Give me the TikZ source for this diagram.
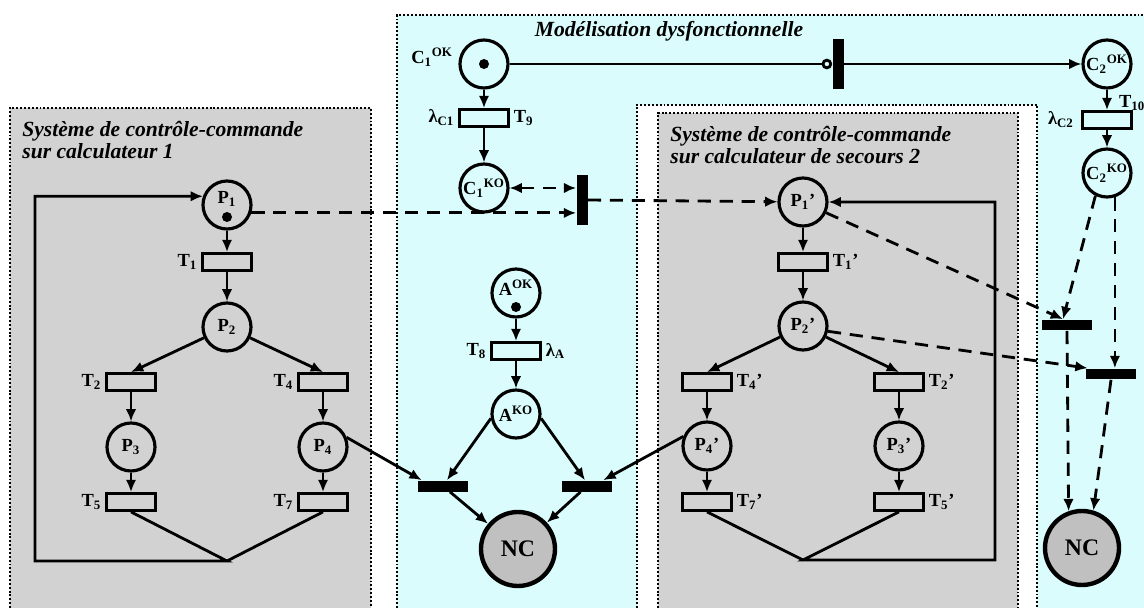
\documentclass[tikz,border=0pt]{standalone}
\usepackage{fontspec}
\setmainfont{Liberation Serif}
\usetikzlibrary{arrows.meta, positioning}
\definecolor{sysgray}{RGB}{210,210,210}
\definecolor{dysfcyan}{RGB}{218,252,252}
\definecolor{ncgray}{RGB}{192,192,192}
\newcommand{\lblfont}{\bfseries\fontsize{10.5}{12}\selectfont}
\tikzset{
  >={Latex[length=7pt,width=6pt]},
  place/.style   = {circle, draw, line width=1.8pt, minimum size=0.96cm, inner sep=0pt, font=\lblfont},
  ncplace/.style = {place, fill=ncgray, line width=2.5pt, minimum size=1.48cm,
                    font=\bfseries\fontsize{13.5}{15}\selectfont},
  trans/.style   = {draw, line width=1.6pt, minimum width=0.98cm, minimum height=0.34cm, inner sep=0pt},
  hbar/.style    = {fill=black, minimum width=1cm, minimum height=0.22cm, inner sep=0pt},
  vbar/.style    = {fill=black, minimum width=0.22cm, minimum height=1.02cm, inner sep=0pt},
  jeton/.style   = {circle, fill=black, minimum size=0.2cm, inner sep=0pt},
  wire/.style    = {line width=1.6pt},
  flow/.style    = {->, line width=1.6pt},
  dflow/.style   = {flow, dash pattern=on 7.5pt off 5pt},
  dboth/.style   = {<->, line width=1.6pt, dash pattern=on 7.5pt off 5pt},
  inhib/.style   = {-{Circle[open,length=6pt]}, line width=1.6pt},
  lbl/.style     = {font=\lblfont, inner sep=1pt},
  zone/.style    = {line width=1.1pt, dash pattern=on 1.1pt off 1.1pt},
  boxtitle/.style = {font=\bfseries\itshape\fontsize{12.3}{12.5}\selectfont, align=left,
                     anchor=north west, inner sep=0pt},
}

\begin{document}
\begin{tikzpicture}[x=0.02cm, y=-0.02cm]
  \useasboundingbox (0,0) rectangle (1144,608);
  \fill[dysfcyan] (397,15) rectangle (1144,608);
  \draw[zone] (397,608) |- (1144,15);
  \fill[white] (637,105) rectangle (1037,608);
  \draw[zone] (637,608) |- (1037,105) -- (1037,608);
  \fill[sysgray] (658,113) rectangle (1018,608);
  \draw[zone] (658,608) |- (1018,113) -- (1018,608);
  \fill[sysgray] (10,108) rectangle (371,608);
  \draw[zone] (10,608) |- (371,108) -- (371,608);

  \node[boxtitle] (tSys1) at (22,121) {Système de contrôle-commande\\sur calculateur 1};
  \node[boxtitle] (tSys2) at (670,126) {Système de contrôle-commande\\sur calculateur de secours 2};
  \node[boxtitle, anchor=center] (tDysf) at (669,31) {Modélisation dysfonctionnelle};

  % calculateur 1
  \node[place] (P1) at (227,205) {};
  \node[lbl] (lP1) at (227,199) {P\textsubscript{1}};
  \node[jeton] (tkP1) at (227,217) {};
  \node[trans] (T1) at (227,262) {};
  \node[place] (P2) at (227,327) {P\textsubscript{2}};
  \node[trans] (T2) at (131,382) {};
  \node[trans] (T4) at (323,382) {};
  \node[place] (P3) at (131,447) {P\textsubscript{3}};
  \node[place] (P4) at (323,447) {P\textsubscript{4}};
  \node[trans] (T5) at (131,502) {};
  \node[trans] (T7) at (323,502) {};
  \node[lbl, left=1pt of T1] (lT1) {T\textsubscript{1}};
  \node[lbl, left=1pt of T2] (lT2) {T\textsubscript{2}};
  \node[lbl, left=1pt of T4] (lT4) {T\textsubscript{4}};
  \node[lbl, left=1pt of T5] (lT5) {T\textsubscript{5}};
  \node[lbl, left=1pt of T7] (lT7) {T\textsubscript{7}};
  \coordinate (jL) at (227,561);
  \coordinate (cL) at (35,561);
  \draw[flow] (P1) -- (T1);
  \draw[flow] (T1) -- (P2);
  \draw[flow] (P2) -- (T2.north);
  \draw[flow] (P2) -- (T4.north);
  \draw[flow] (T2) -- (P3);
  \draw[flow] (T4) -- (P4);
  \draw[flow] (P3) -- (T5);
  \draw[flow] (P4) -- (T7);
  \draw[wire] (T7.south) -- (jL);
  \draw[flow] (T5.south) -- (jL) -- (cL) |- (P1.160);

  % calculateur de secours 2
  \node[place] (P1b) at (803,202) {P\textsubscript{1}’};
  \node[trans] (T1b) at (803,262) {};
  \node[place] (P2b) at (803,326) {P\textsubscript{2}’};
  \node[trans] (T4b) at (707,382) {};
  \node[trans] (T2b) at (899,382) {};
  \node[place] (P4b) at (707,446) {P\textsubscript{4}’};
  \node[place] (P3b) at (899,446) {P\textsubscript{3}’};
  \node[trans] (T7b) at (707,502) {};
  \node[trans] (T5b) at (899,502) {};
  \node[lbl, right=1pt of T1b] (lT1b) {T\textsubscript{1}’};
  \node[lbl, right=1pt of T4b] (lT4b) {T\textsubscript{4}’};
  \node[lbl, right=1pt of T2b] (lT2b) {T\textsubscript{2}’};
  \node[lbl, right=1pt of T7b] (lT7b) {T\textsubscript{7}’};
  \node[lbl, right=1pt of T5b] (lT5b) {T\textsubscript{5}’};
  \coordinate (jR) at (803,560);
  \coordinate (cR) at (995,560);
  \draw[flow] (P1b) -- (T1b);
  \draw[flow] (T1b) -- (P2b);
  \draw[flow] (P2b) -- (T4b.north);
  \draw[flow] (P2b) -- (T2b.north);
  \draw[flow] (T4b) -- (P4b);
  \draw[flow] (T2b) -- (P3b);
  \draw[flow] (P4b) -- (T7b);
  \draw[flow] (P3b) -- (T5b);
  \draw[wire] (T7b.south) -- (jR);
  \draw[flow] (T5b.south) -- (jR) -- (cR) |- (P1b.east);

  % modelisation dysfonctionnelle
  \node[place] (C1OK) at (484,64) {};
  \node[jeton] (tkC1) at (484,64) {};
  \node[lbl, anchor=east] (lC1OK) at (455,57) {C\textsubscript{1}\textsuperscript{OK}};
  \node[trans] (T9) at (484,118) {};
  \node[lbl, left=1pt of T9] (lLC1) {λ\textsubscript{C1}};
  \node[lbl, right=1pt of T9] (lT9) {T\textsubscript{9}};
  \node[place] (C1KO) at (484,188) {C\textsubscript{1}\textsuperscript{KO}};
  \node[vbar] (vbarA) at (582,200) {};
  \node[vbar] (vbarC) at (838,64) {};
  \node[place] (C2OK) at (1107,64) {C\textsubscript{2}\textsuperscript{OK}};
  \node[trans] (T10) at (1107,120) {};
  \node[lbl, left=3pt of T10] (lLC2) {λ\textsubscript{C2}};
  \node[lbl, anchor=west] (lT10) at (1117,103) {T\textsubscript{10}};
  \node[place] (C2KO) at (1107,173) {C\textsubscript{2}\textsuperscript{KO}};
  \node[place] (AOK) at (516,293) {};
  \node[lbl] (lAOK) at (516,288) {A\textsuperscript{OK}};
  \node[jeton] (tkA) at (516,307) {};
  \node[trans] (T8) at (516,351) {};
  \node[lbl, left=1pt of T8] (lT8) {T\textsubscript{8}};
  \node[lbl, right=1pt of T8] (lLA) {λ\textsubscript{A}};
  \node[place] (AKO) at (516,414) {A\textsuperscript{KO}};
  \node[hbar] (barL) at (443,486) {};
  \node[hbar] (barR) at (587,486) {};
  \node[ncplace] (NC1) at (518,549) {NC};
  \node[hbar] (barA2) at (1067,325) {};
  \node[hbar] (barB2) at (1111,374) {};
  \node[ncplace] (NC2) at (1082,548) {NC};

  \draw[flow] (C1OK) -- (T9);
  \draw[flow] (T9) -- (C1KO);
  \draw[inhib] (C1OK) -- (vbarC.west);
  \draw[flow] (vbarC.east) -- (C2OK);
  \draw[flow] (C2OK) -- (T10);
  \draw[flow] (T10) -- (C2KO);
  \draw[dflow] (P1.-18) -- (vbarA.west |- P1.-18);
  \draw[dboth] (C1KO.east) -- (vbarA.west |- C1KO.east);
  \draw[dflow] (vbarA.east) -- (P1b);
  \draw[flow] (AOK) -- (T8);
  \draw[flow] (T8) -- (AKO);
  \draw[flow] (AKO.190) -- ([xshift=0.08cm]barL.north);
  \draw[flow] (AKO.-10) -- ([xshift=-0.04cm]barR.north);
  \draw[flow] (P4.22) -- ([xshift=0.08cm]barL.north west);
  \draw[flow] (P4b.158) -- ([xshift=-0.18cm]barR.north east);
  \draw[flow] (barL) -- (NC1);
  \draw[flow] (barR) -- (NC1);
  \draw[dflow] (C2KO.243) -- ([xshift=-0.08cm]barA2.north);
  \draw[dflow] (C2KO.-72) -- (C2KO.-72 |- barB2.north);
  \draw[dflow] (P1b.-25) -- ([xshift=-0.08cm]barA2.north);
  \draw[dflow] (P2b.-12) -- ([xshift=0.04cm]barB2.north west);
  \draw[dflow] (barA2.south) -- (NC2.110);
  \draw[dflow] (barB2.south) -- (NC2.73);
\end{tikzpicture}
\end{document}
